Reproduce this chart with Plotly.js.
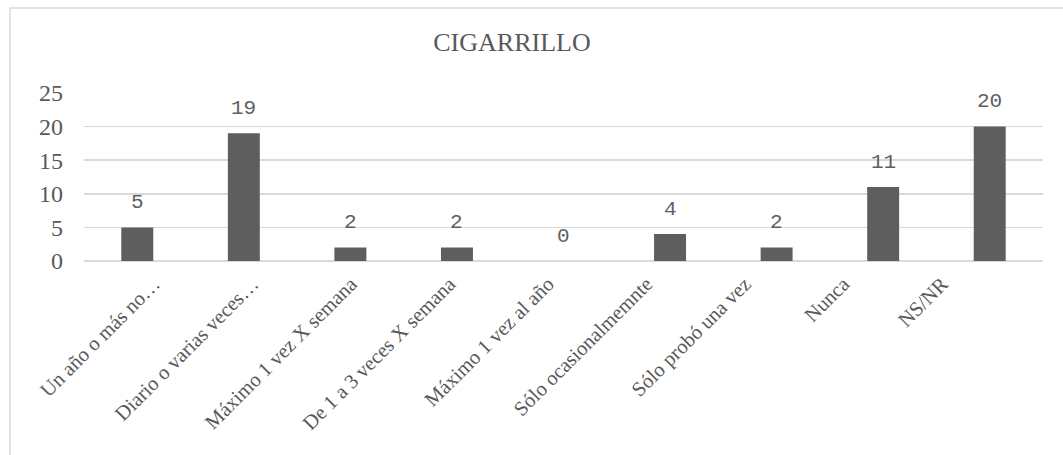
<!DOCTYPE html>
<html>
<head>
<meta charset="utf-8">
<script src="https://cdn.plot.ly/plotly-3.0.1.min.js"></script>
<style>html,body{margin:0;padding:0;background:#fff;}#chart{width:1063px;height:455px;}</style>
</head>
<body>
<div id="chart"></div>
<script>
var categories = ["Un año o más no…", "Diario o varias veces…", "Máximo 1 vez X semana", "De 1 a 3 veces X semana", "Máximo 1 vez al año", "Sólo ocasionalmemnte", "Sólo probó una vez", "Nunca", "NS/NR"];
var values = [5, 19, 2, 2, 0, 4, 2, 11, 20];
var yTicks = [0, 5, 10, 15, 20, 25];
var chartTitle = "CIGARRILLO";

var serif = "Liberation Serif, Times New Roman, serif";
var mono = "Liberation Mono, Courier New, monospace";
var grey = "#595959";

var annotations = categories.map(function(c, i) {
  return {
    x: c, y: values[i], xref: 'x', yref: 'y',
    text: String(values[i]), showarrow: false,
    yanchor: 'middle', yshift: 25,
    font: {family: mono, size: 21, color: '#606060'}
  };
});

var bars = {
  type: 'bar',
  x: categories,
  y: values,
  xaxis: 'x', yaxis: 'y',
  marker: {color: '#5e5e5e', line: {width: 0}},
  hoverinfo: 'none'
};

// invisible helper trace that carries the category labels on the label axis
var labelTrace = {
  type: 'scatter', mode: 'markers',
  x: categories, y: values,
  xaxis: 'x2', yaxis: 'y',
  marker: {opacity: 0, size: 1},
  hoverinfo: 'none', showlegend: false
};

var layout = {
  width: 1063, height: 455,
  margin: {l: 84, r: 20, t: 93, b: 194},
  paper_bgcolor: '#ffffff', plot_bgcolor: '#ffffff',
  showlegend: false,
  bargap: 0.7,
  title: {
    text: chartTitle, x: 512/1063, xref: 'container', xanchor: 'center',
    y: 1 - 42/455, yref: 'container', yanchor: 'middle',
    font: {family: serif, size: 26, color: grey}
  },
  xaxis: {
    type: 'category', showticklabels: false, showgrid: false, zeroline: false,
    showline: false, ticks: '', automargin: false
  },
  xaxis2: {
    type: 'category', overlaying: 'x', side: 'bottom', anchor: 'y',
    range: [-0.71, 9.026],
    tickangle: -45, showgrid: false, zeroline: false,
    showline: false, ticks: '',
    tickfont: {family: serif, size: 20.5, color: grey},
    ticklabelstandoff: 6,
    automargin: false
  },
  yaxis: {
    range: [0, 25], tickvals: yTicks, ticktext: yTicks.map(String),
    showgrid: true, gridcolor: '#d9d9d9', gridwidth: 1.5,
    zeroline: true, zerolinecolor: '#d9d9d9', zerolinewidth: 1.5,
    showline: false, ticks: '',
    tickfont: {family: serif, size: 24, color: grey},
    ticklabelstandoff: 20,
    automargin: false
  },
  annotations: annotations,
  shapes: [{
    type: 'rect', xref: 'paper', yref: 'paper',
    x0: (10 - 84) / (1063 - 104), x1: 1.2,
    y0: -1.5, y1: 1 + (93 - 8) / (455 - 287),
    line: {color: '#d9d9d9', width: 1.5}, fillcolor: 'rgba(0,0,0,0)', layer: 'below'
  }]
};

Plotly.newPlot('chart', [bars, labelTrace], layout, {displayModeBar: false, staticPlot: true});
</script>
</body>
</html>
